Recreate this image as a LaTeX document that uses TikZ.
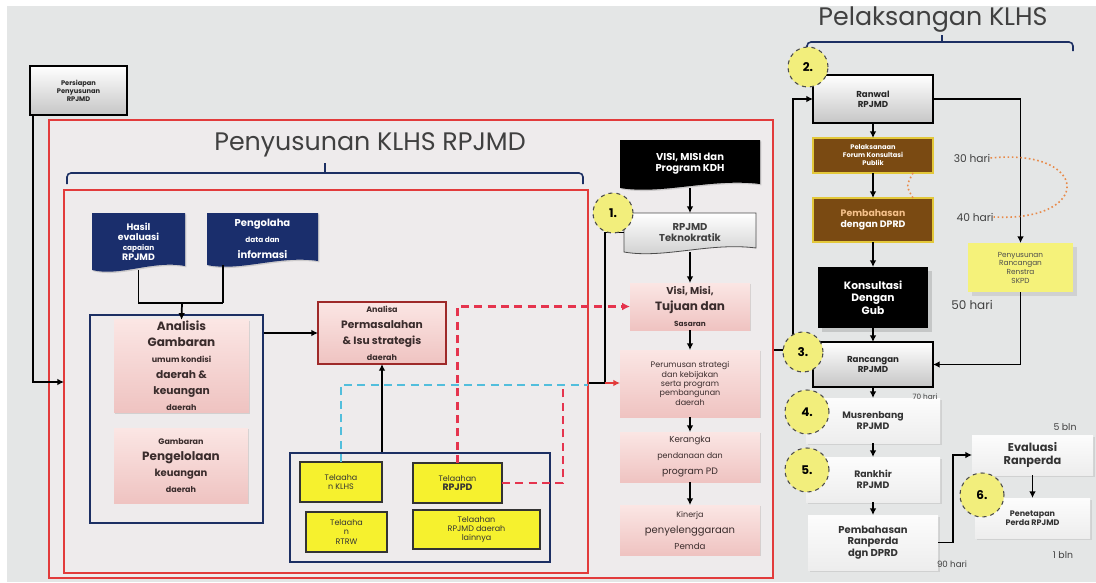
\documentclass[tikz,border=0pt]{standalone}
\usepackage{fontspec}
\setmainfont{Poppins}
\usetikzlibrary{calc,arrows.meta,shadows}
\pgfdeclarelayer{bg}\pgfdeclarelayer{shp}\pgfsetlayers{bg,shp,main}
\definecolor{bgc}{HTML}{E4E6E6}
\definecolor{inc}{HTML}{EEEBEC}
\definecolor{redc}{HTML}{E23B3B}
\definecolor{navyc}{HTML}{1A2E6C}
\definecolor{grpc}{HTML}{1C2F63}
\definecolor{pinkT}{HTML}{FBE6E4}
\definecolor{pinkB}{HTML}{EFC3C1}
\definecolor{ylwc}{HTML}{F6F12E}
\definecolor{ylwl}{HTML}{F5F27A}
\definecolor{brn}{HTML}{7A4A12}
\definecolor{brnline}{HTML}{E3C83A}
\definecolor{circc}{HTML}{F2EE7C}
\definecolor{cyanc}{HTML}{52BEDC}
\definecolor{rdash}{HTML}{E5344E}
\definecolor{orgc}{HTML}{E88A4A}
\definecolor{txt}{HTML}{3A2C2C}
\definecolor{peach}{HTML}{F5C08A}
\newcommand{\fs}[2]{\fontsize{#1}{#2}\selectfont}
\newcommand{\bx}[7]{\node[#1, minimum width={(#5-#3)*0.75pt}, minimum height={(#6-#4)*0.75pt}] (#2) at ({(#3+#5)/2},{(#4+#6)/2}) {#7};}
\newcommand{\docshape}[2]{\begin{pgfonlayer}{shp}\path[#2] (#1.north west) -- (#1.north east) -- ($(#1.south east)+(0,-4)$) .. controls ($(#1.south east)!0.35!(#1.south west)+(0,-10)$) and ($(#1.south east)!0.7!(#1.south west)+(0,7)$) .. (#1.south west) -- cycle;\end{pgfonlayer}}
\begin{document}
\begin{tikzpicture}[x=0.75pt,y=-0.75pt,
  base/.style={align=center, inner sep=1pt, outer sep=0pt},
  pinkbox/.style={base, top color=pinkT, bottom color=pinkB, text=txt, drop shadow={opacity=0.25,shadow xshift=1pt,shadow yshift=-1pt}},
  grybox/.style={base, draw=black, line width=1.6pt, top color=white, bottom color=gray!45, text=black!85},
  softbox/.style={base, top color=gray!2, bottom color=gray!14, text=black!80, drop shadow={opacity=0.2,shadow xshift=1.5pt,shadow yshift=-1.5pt}},
  ylw/.style={base, fill=ylwc, draw=black!80, line width=0.8pt, text=black!80, font=\fs{6}{7}, drop shadow={opacity=0.3,shadow xshift=1pt,shadow yshift=-1pt}},
  brownbox/.style={base, fill=brn, draw=brnline, line width=1.5pt, text=white},
  blk/.style={base, fill=black, text=white!85, drop shadow={opacity=0.3}},
  grp/.style={draw=grpc, line width=1.3pt},
  redbox/.style={draw=redc, line width=1.6pt},
  brc/.style={draw=grpc, line width=1.2pt, rounded corners=3pt},
  ln/.style={draw=black, line width=1.3pt},
  arr/.style={ln, -{Latex[length=5pt,width=5pt]}},
  cyd/.style={draw=cyanc, line width=1.3pt, dash pattern=on 6pt off 4pt},
  rdd/.style={draw=rdash, line width=1.8pt, dash pattern=on 6pt off 4pt},
  orgdot/.style={draw=orgc, line width=1.2pt, dotted},
  circ/.style={circle, fill=circc, draw=black!70, dashed, line width=0.8pt, font=\bfseries\fs{9}{10}, minimum size=30pt, inner sep=0pt},
  lbl/.style={text=black!75, inner sep=0pt}]
\useasboundingbox (0,0) rectangle (1096,582);
\begin{pgfonlayer}{bg}
\fill[bgc] (7,6) rectangle (1096,582);
\bx{redbox,fill=inc}{outred}{49}{120}{773}{578}{}
\bx{redbox,fill=inc}{inred}{64}{190}{588}{573}{}
\end{pgfonlayer}

% titles and braces
\node[font=\fs{19}{22}, text=black!75] (t1) at (370,145) {Penyusunan KLHS RPJMD};
\draw[brc] (67,184) -- (67,173) -- (583,173) -- (583,184) (325,173) -- (325,163);
\node[font=\fs{19}{22}, text=black!75] (t2) at (933,20) {Pelaksangan KLHS};
\draw[brc] (807,51) -- (807,42) -- (1073,42) -- (1073,51) (942,42) -- (942,35);

% left part
\bx{grybox,font=\bfseries\fs{5}{6}}{pers}{30}{66}{127}{115}{Persiapan\\Penyusunan\\RPJMD}
\bx{base,text=white,font=\bfseries\fs{7}{7.5}}{hasil}{92}{213}{185}{270}{Hasil\\evaluasi\\{\fs{5.5}{6.5}capaian}\\RPJMD}
\docshape{hasil}{fill=navyc, drop shadow={opacity=.3,shadow xshift=1pt,shadow yshift=-1pt}}
\bx{base,text=white,font=\bfseries}{peng}{207}{213}{318}{265}{{\fs{7.5}{8.5}Pengolaha}\\{\fs{5.5}{6.5}data dan}\\{\fs{7.5}{8.5}informasi}}
\docshape{peng}{fill=navyc, drop shadow={opacity=.3,shadow xshift=1pt,shadow yshift=-1pt}}

\bx{grp}{grp1}{90}{315}{263}{523}{}
\bx{pinkbox,font=\bfseries}{anal}{114}{324}{249}{408}{{\fs{9}{9.5}Analisis}\\{\fs{9}{9.5}Gambaran}\\{\fs{6}{7}umum kondisi}\\{\fs{8}{9}daerah \&}\\{\fs{8}{9}keuangan}\\{\fs{6}{7}daerah}}
\bx{pinkbox,font=\bfseries}{gamb}{114}{428}{248}{503}{{\fs{6}{7}Gambaran}\\{\fs{9}{10}Pengelolaan}\\{\fs{7.5}{8.5}keuangan}\\{\fs{6}{7}daerah}}
\bx{pinkbox,draw=redc!70!black,line width=0.8pt,font=\bfseries}{anz}{318}{302}{446}{364}{{\fs{6}{7}Analisa}\\{\fs{8}{9}Permasalahan}\\{\fs{8}{9}\& Isu strategis}\\{\fs{6}{7}daerah}}

\bx{grp}{grp2}{290}{453}{550}{562}{}
\bx{ylw}{klhs}{300}{462}{382}{502}{Telaaha\\n KLHS}
\bx{ylw}{rtrw}{306}{512}{387}{552}{Telaaha\\n\\RTRW}
\bx{ylw}{rpjpd}{413}{463}{502}{503}{Telaahan\\{\bfseries\fs{7}{8}RPJPD}}
\bx{ylw}{lain}{413}{510}{540}{549}{Telaahan\\RPJMD daerah\\lainnya}

% right column of red box
\bx{base,text=white,font=\bfseries\fs{7.5}{8.5}}{vkdh}{620}{140}{760}{188}{VISI, MISI dan\\Program KDH}
\docshape{vkdh}{fill=black, drop shadow={opacity=.3,shadow xshift=1pt,shadow yshift=-1pt}}
\bx{base,text=black!75,font=\bfseries\fs{7.5}{8.5}}{tek}{624}{213}{756}{252}{RPJMD\\Teknokratik}
\docshape{tek}{top color=white, bottom color=gray!40, draw=gray!60!black, line width=0.6pt}
\bx{pinkbox,font=\bfseries}{visi}{630}{283}{750}{330}{{\fs{7.5}{8.5}Visi, Misi,}\\{\fs{9}{10}Tujuan dan}\\{\fs{5.5}{6.5}Sasaran}}
\bx{pinkbox,font=\fs{6}{7}}{peru}{620}{350}{760}{417}{Perumusan strategi\\dan kebijakan\\serta program\\pembangunan\\daerah}
\bx{pinkbox}{ker}{620}{432}{760}{482}{{\fs{6.5}{7.5}Kerangka}\\{\fs{6}{7}pendanaan dan}\\{\fs{7}{8}program PD}}
\bx{pinkbox}{kin}{620}{505}{760}{555}{{\fs{6}{7}Kinerja}\\{\fs{7.5}{8.5}penyelenggaraan}\\{\fs{6.5}{7.5}Pemda}}

% right section
\bx{grybox,font=\bfseries\fs{6.5}{7.5}}{ranwal}{813}{75}{933}{123}{Ranwal\\RPJMD}
\bx{brownbox,font=\bfseries\fs{5}{6}}{forum}{813}{138}{933}{173}{Pelaksanaan\\Forum Konsultasi\\Publik}
\bx{brownbox,font=\bfseries\fs{7}{8.5}}{dprd}{813}{198}{933}{242}{{\color{peach}Pembahasan}\\dengan DPRD}
\bx{blk,font=\bfseries\fs{8}{9.5}}{kons}{818}{267}{928}{328}{Konsultasi\\Dengan\\Gub}
\bx{base,fill=ylwl,text=black!70,font=\fs{5.5}{6.5},drop shadow={opacity=0.2}}{renstra}{968}{243}{1073}{292}{Penyusunan\\Rancangan\\Renstra\\SKPD}
\bx{grybox,font=\bfseries\fs{6.5}{7.5}}{ranc}{813}{342}{933}{387}{Rancangan\\RPJMD}
\bx{softbox,font=\bfseries\fs{7}{8}}{mus}{806}{398}{940}{443}{Musrenbang\\RPJMD}
\bx{softbox,font=\bfseries\fs{7}{8}}{rankhir}{806}{457}{940}{502}{Rankhir\\RPJMD}
\bx{softbox,font=\bfseries\fs{7.5}{8.5}}{pemb}{808}{515}{938}{570}{Pembahasan\\Ranperda\\dgn DPRD}
\bx{softbox,font=\bfseries\fs{8.5}{9.5}}{evalu}{972}{435}{1093}{475}{Evaluasi\\Ranperda}
\bx{softbox,font=\bfseries\fs{6}{7}}{pen}{975}{498}{1090}{538}{Penetapan\\Perda RPJMD}

\node[lbl,font=\fs{8}{9}] (h30) at (972,158) {30 hari};
\node[lbl,font=\fs{8}{9}] (h40) at (975,217) {40 hari};
\node[lbl,font=\fs{9}{10}] (h50) at (972,305) {50 hari};
\node[lbl,font=\fs{5.5}{6}] (h70) at (925,397) {70 hari};
\node[lbl,font=\fs{6.5}{7}] (h90) at (952,564) {90 hari};
\node[lbl,font=\fs{7}{8}] (b5) at (1065,427) {5 bln};
\node[lbl,font=\fs{7}{8}] (b1) at (1063,555) {1 bln};

% connectors left
\coordinate (inL) at (64,382);
\draw[arr] ($(pers.south west)+(3,0)$) |- (inL);
\coordinate (jn) at (182,303);
\coordinate (pgx) at (223,265);
\draw[ln] (hasil.south) -- (hasil.south |- jn) -- (pgx |- jn);
\draw[ln] (pgx) -- (pgx |- jn);
\draw[arr] (jn) -- (anal.north);
\draw[arr] (grp1.east |- anz.west) -- (anz.west);
\draw[arr] (anz.south |- grp2.north) -- (anz.south);
\coordinate (cy1) at (588,385);
\coordinate (cy2) at (563,385);
\draw[cyd] (klhs.north) |- (cy1);
\draw[rdd] (rpjpd.east) -| (cy2);
\draw[rdd,-{Latex[length=6pt,width=6pt]}] (rpjpd.north) |- (visi.west);
\coordinate (v1) at (605,383);
\draw[ln] (tek.west) -| (v1);
\draw[ln] (inred.east |- v1) -- (v1);
\draw[arr,draw=redc] (v1) -- (peru.west |- v1);
\draw[arr] (tek.north |- vkdh.south) -- (tek.north);
\draw[arr] (tek.south) -- (visi.north);
\draw[arr] (visi.south) -- (peru.north);
\draw[arr] (peru.south) -- (ker.north);
\draw[arr] (ker.south) -- (kin.north);

% connectors right
\coordinate (j3) at (793,350);
\draw[ln] (outred.east |- j3) -- (j3);
\draw[arr] (j3) |- (ranwal.west);
\draw[arr] (j3) -- (ranc.west |- j3);
\draw[arr] (ranwal.east) -| (renstra.north);
\draw[arr] (renstra.south) |- (ranc.east);
\draw[arr] (ranwal.south) -- (forum.north);
\draw[arr] (forum.south) -- (dprd.north);
\draw[arr] (dprd.south) -- (kons.north);
\draw[arr] (kons.south) -- (ranc.north);
\draw[arr] (ranc.south) -- (mus.north);
\draw[arr] (mus.south) -- (rankhir.north);
\draw[arr] (rankhir.south) -- (pemb.north);
\draw[arr] (pemb.east) -- ++(15,0) |- (evalu.west);
\draw[arr] (evalu.south) -- (pen.north);
\draw[orgdot] (h30.east) .. controls (1090,148) and (1094,222) .. (h40.east);
\draw[orgdot] ($(forum.south east)+(-20,0)$) .. controls (906,186) .. ($(dprd.north east)+(-20,0)$);

% numbered circles
\node[circ] (c1) at (613,213) {1.};
\node[circ] (c2) at (808,67) {2.};
\node[circ] (c3) at (803,352) {3.};
\node[circ,minimum size=33pt] (c4) at (807,412) {4.};
\node[circ,minimum size=33pt] (c5) at (807,470) {5.};
\node[circ,minimum size=33pt] (c6) at (982,495) {6.};
\end{tikzpicture}
\end{document}
